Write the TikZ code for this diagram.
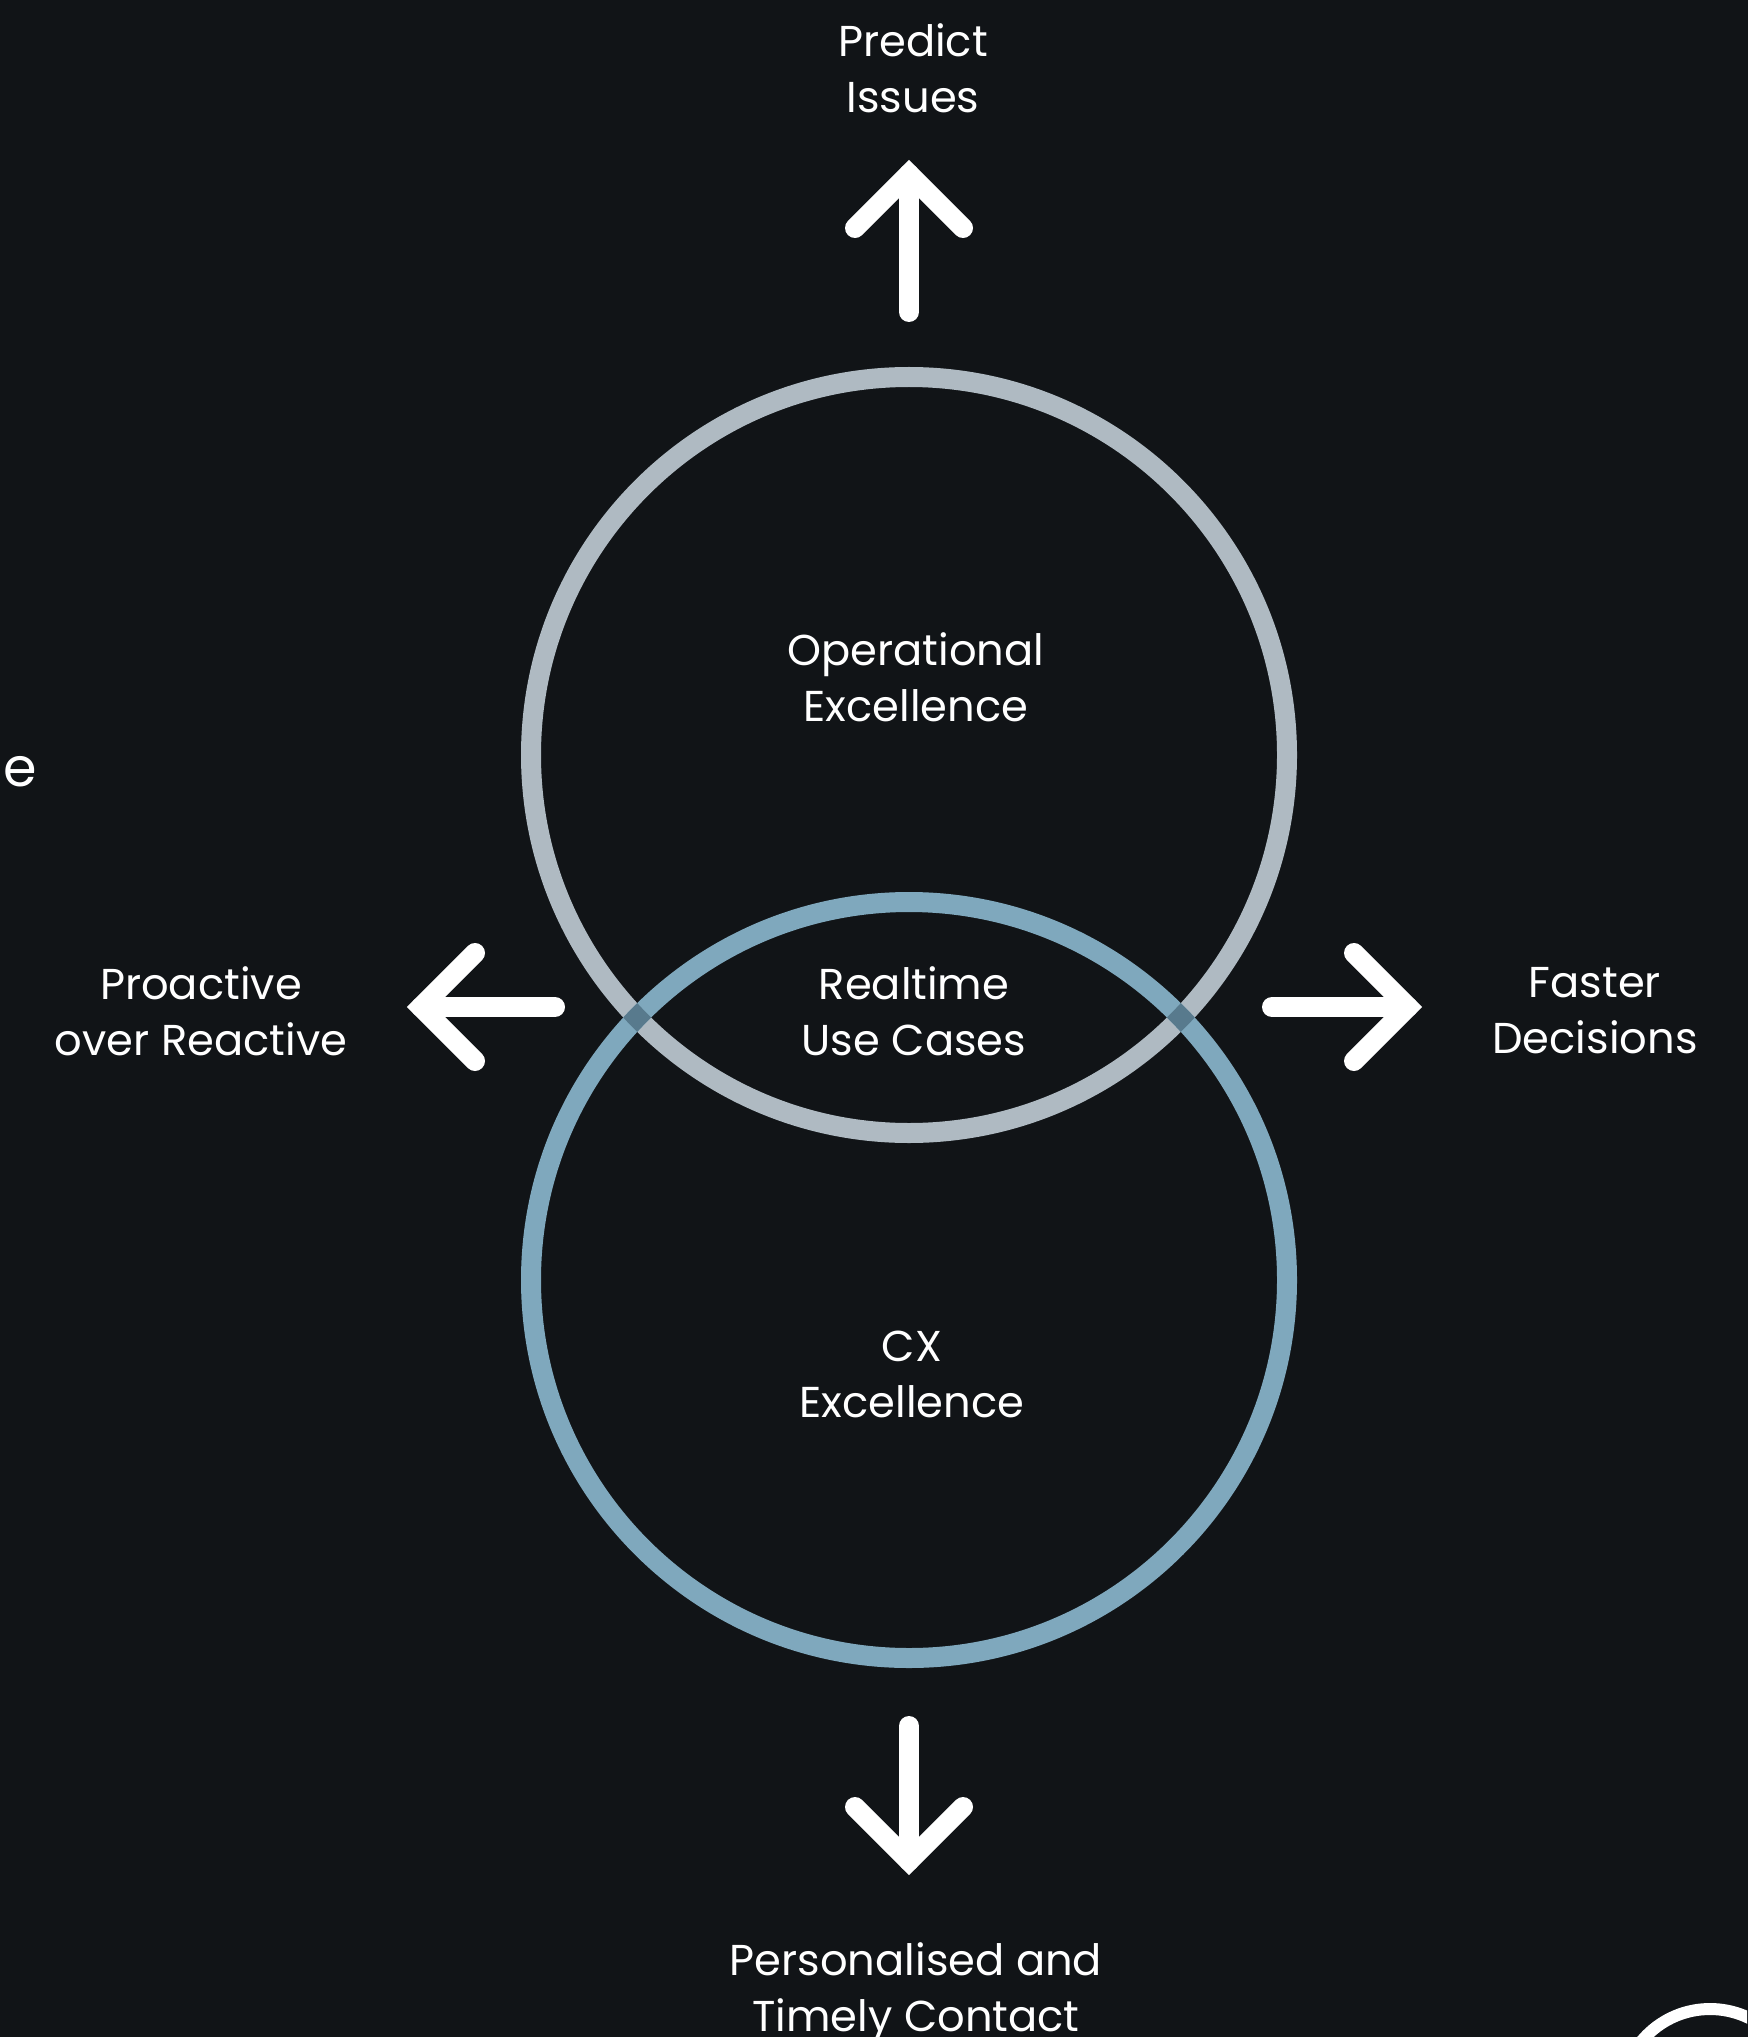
\documentclass[tikz,border=0pt]{standalone}
\usepackage{fontspec}
\setmainfont{Poppins}
\usepackage{tikz}

\definecolor{bgdark}{HTML}{111417}
\definecolor{opring}{HTML}{AFBAC2}
\definecolor{cxring}{HTML}{7FA8BD}
\definecolor{overlapring}{HTML}{587A8D}

\tikzset{
    textlabel/.style = {text = white, align = center, font = \fontsize{21.6}{28}\selectfont},
    arrowline/.style = {white, line width = 10pt, line cap = round, line join = miter},
    ring/.style = {line width = 10pt}
}

\begin{document}
\begin{tikzpicture}[x = 0.5pt, y = -0.5pt]
    \useasboundingbox (0,0) rectangle (1747,2037);
    \fill [bgdark] (-20,-20) rectangle (1767,2057);
    \clip (0,0) rectangle (1747,2037);

    \coordinate (OP) at (909,755);
    \coordinate (CX) at (909,1280);

    \draw [ring, opring] (OP) circle (189pt);
    \draw [ring, cxring] (CX) circle (189pt);
    \begin{scope}[even odd rule]
        \clip (OP) circle (194pt) circle (184pt);
        \draw [ring, overlapring] (CX) circle (189pt);
    \end{scope}

    \coordinate (up tail) at (909,312);
    \coordinate (up tip) at (909,174);
    \draw [arrowline] (up tail) -- (up tip);
    \draw [arrowline] (855,228) -- (up tip) -- (963,228);

    \coordinate (down tail) at (909,1726);
    \coordinate (down tip) at (909,1861);
    \draw [arrowline] (down tail) -- (down tip);
    \draw [arrowline] (855,1807) -- (down tip) -- (963,1807);

    \coordinate (left tail) at (555,1007);
    \coordinate (left tip) at (421,1007);
    \draw [arrowline] (left tail) -- (left tip);
    \draw [arrowline] (475,953) -- (left tip) -- (475,1061);

    \coordinate (right tail) at (1272,1007);
    \coordinate (right tip) at (1408,1007);
    \draw [arrowline] (right tail) -- (right tip);
    \draw [arrowline] (1354,953) -- (right tip) -- (1354,1061);

    \node (predict) at (913,68) [textlabel] {Predict\\Issues};
    \node (operational) at (916,677) [textlabel] {Operational\\Excellence};
    \node (realtime) at (914,1011) [textlabel] {Realtime\\Use Cases};
    \node (cx) at (912,1374) [textlabel] {CX\\Excellence};
    \node (proactive) at (201,1011) [textlabel] {Proactive\\over Reactive};
    \node (faster) at (1595,1011) [textlabel] {Faster\\Decisions};
    \node (personalised) at (916,1993) [textlabel] {Personalised and\\Timely Contact};
    \node (cut) at (20,772) [textlabel, scale = 1.25] {e};

    \draw [white, line width = 6pt] (1710,2098) circle (44.5pt);
\end{tikzpicture}
\end{document}
